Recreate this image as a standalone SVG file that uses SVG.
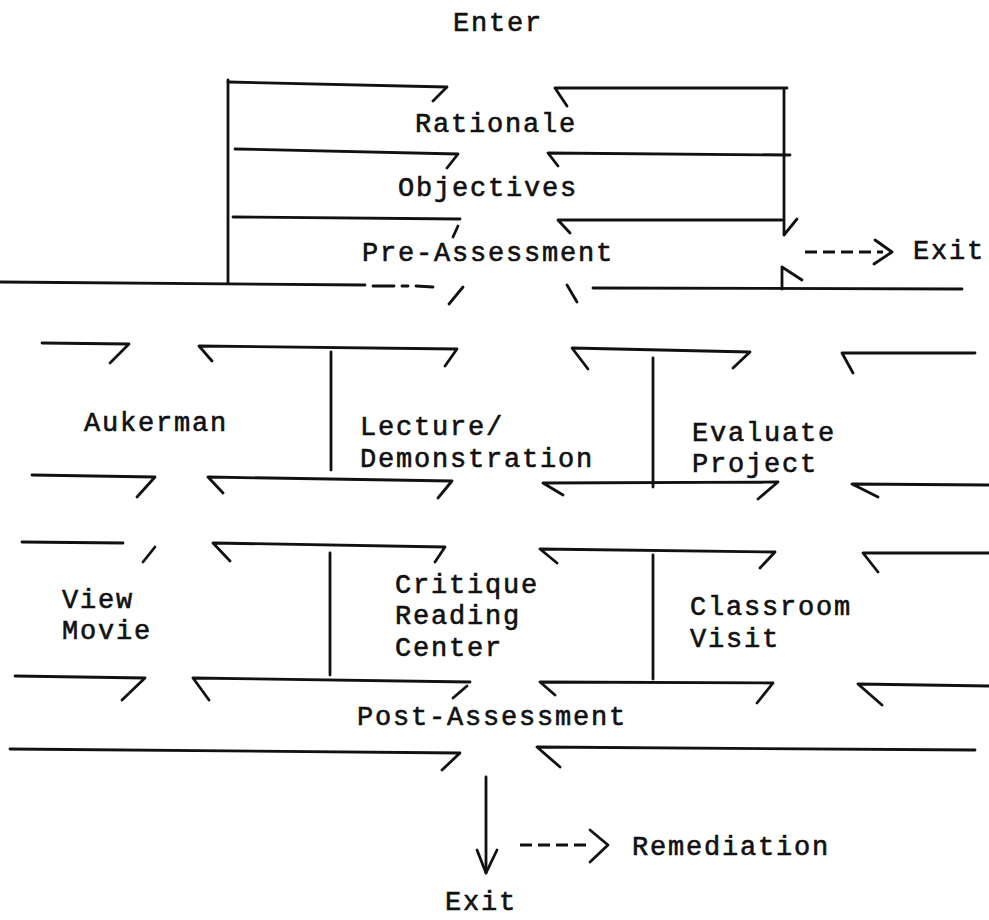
<svg xmlns="http://www.w3.org/2000/svg" width="989" height="920" viewBox="0 0 989 920">
<style>
.ln{fill:none;stroke:#111;stroke-width:2.8;stroke-linecap:round;stroke-linejoin:round}
.ds{stroke-dasharray:12 6;stroke-linecap:butt}
.t{font-family:"Liberation Mono","Courier New",monospace;font-size:27px;letter-spacing:1.8px;fill:#111;stroke:#111;stroke-width:0.6}
</style>
<rect width="989" height="920" fill="#fff"/>
<g id="connectors" class="ln">
<path d="M228,80 V283"/>
<path d="M228,82 L447,87 L433,101"/>
<path d="M567,106 L555,88 L787,88"/>
<path d="M784,90 V235 L797,219"/>
<path d="M235,149 L458,154 L447,168"/>
<path d="M558,166 L548,153 L790,155"/>
<path d="M233,217 L460,219"/>
<path d="M458,226 L453,237"/>
<path d="M570,233 L558,220 L782,220"/>
<path d="M0,282 L365,285"/>
<path d="M373,286 L394,286 M402,286 L408,286 M416,286 L433,287"/>
<path d="M463,287 L449,304"/>
<path d="M567,285 L577,302"/>
<path d="M593,288 L962,289"/>
<path d="M782,289 V267 L802,280"/>
<path class="ln ds" d="M805,252 H883"/>
<path d="M875,240 L892,252 L874,264"/>
<path d="M42,343 L129,344 L110,363"/>
<path d="M212,361 L199,346 L457,349 L445,366"/>
<path d="M331,352 V470"/>
<path d="M588,369 L572,348 L750,352 L733,368"/>
<path d="M653,358 V487"/>
<path d="M853,373 L842,353 L975,353"/>
<path d="M32,475 L155,477 L137,497"/>
<path d="M223,493 L208,477 L452,481 L438,498"/>
<path d="M563,495 L543,483 L778,482 L758,499"/>
<path d="M878,497 L852,484 L989,485"/>
<path d="M22,542 L123,543"/>
<path d="M155,547 L143,562"/>
<path d="M230,561 L213,543 L445,547 L435,562"/>
<path d="M330,553 V675"/>
<path d="M557,563 L540,549 L775,552 L760,568"/>
<path d="M653,555 V679"/>
<path d="M878,572 L863,553 L989,553"/>
<path d="M15,676 L145,678 L122,700"/>
<path d="M209,700 L193,678 L470,682"/>
<path d="M467,686 L453,698"/>
<path d="M555,695 L540,682 L773,683 L757,703"/>
<path d="M882,705 L858,684 L989,686"/>
<path d="M10,749 L460,753 L442,770"/>
<path d="M560,767 L537,747 L975,750"/>
<path d="M486,777 V873"/>
<path d="M477,850 L486,873 L497,850"/>
<path class="ln ds" d="M520,845 H587"/>
<path d="M590,830 L608,845 L590,862"/>
</g>
<g id="enter"><text class="t" x="453" y="31">Enter</text></g>
<g id="rationale"><text class="t" x="415" y="132">Rationale</text></g>
<g id="objectives"><text class="t" x="398" y="196">Objectives</text></g>
<g id="pre-assessment"><text class="t" x="362" y="261">Pre-Assessment</text></g>
<g id="exit-top"><text class="t" x="913" y="259">Exit</text></g>
<g id="aukerman"><text class="t" x="84" y="431">Aukerman</text></g>
<g id="lecture"><text class="t" x="360" y="435">Lecture/</text><text class="t" x="360" y="467">Demonstration</text></g>
<g id="evaluate"><text class="t" x="692" y="441">Evaluate</text><text class="t" x="692" y="472">Project</text></g>
<g id="view-movie"><text class="t" x="62" y="608">View</text><text class="t" x="62" y="639">Movie</text></g>
<g id="critique"><text class="t" x="395" y="593">Critique</text><text class="t" x="395" y="624">Reading</text><text class="t" x="395" y="656">Center</text></g>
<g id="classroom"><text class="t" x="690" y="615">Classroom</text><text class="t" x="690" y="647">Visit</text></g>
<g id="post-assessment"><text class="t" x="357" y="725">Post-Assessment</text></g>
<g id="remediation"><text class="t" x="632" y="855">Remediation</text></g>
<g id="exit-bottom"><text class="t" x="445" y="910">Exit</text></g>
</svg>
